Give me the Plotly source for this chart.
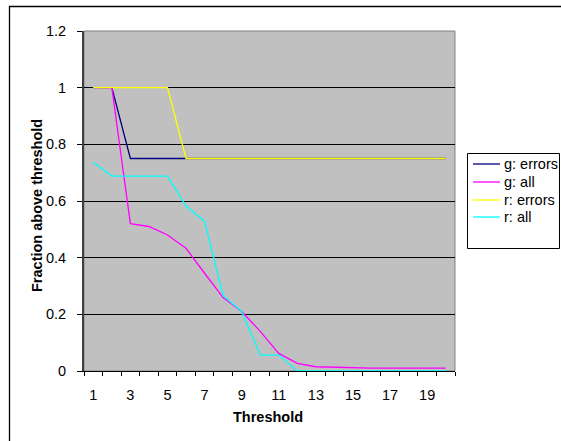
import plotly.graph_objects as go

thresholds = list(range(1, 21))
g_errors = [1, 1] + [0.75] * 18
g_all = [1, 1, 0.52, 0.51, 0.48, 0.433, 0.345, 0.259, 0.21, 0.14, 0.062, 0.027, 0.015, 0.013,
         0.01, 0.01, 0.01, 0.01, 0.01, 0.01]
r_errors = [1, 1, 1, 1, 1] + [0.75] * 15
r_all = [0.737, 0.688, 0.688, 0.688, 0.688, 0.582, 0.529, 0.266, 0.21, 0.056, 0.056,
         0, 0, 0, 0, 0, 0, 0, 0, 0]
x_tick_labels = [str(v) for v in range(1, 20, 2)]

series_names = ["g: errors", "g: all", "r: errors", "r: all"]
series_values = [g_errors, g_all, r_errors, r_all]
series_colors = ["#000080", "#FF00FF", "#FFFF00", "#00FFFF"]

FONT = "Liberation Sans, Arial, sans-serif"
FS = 14.5
W, H = 561, 441
L, R, T, B = 84, 455, 31, 371  # plot area pixels

fig = go.Figure()
for name, vals, col in zip(series_names, series_values, series_colors):
    fig.add_trace(go.Scatter(x=thresholds, y=vals, name=name, mode="lines",
                             line=dict(color=col, width=1.3), showlegend=False))

def px(p):
    return (p - L) / (R - L)

def py(p):
    return (B - p) / (B - T)

shapes = [
    dict(type="rect", xref="paper", yref="paper", x0=0, x1=1, y0=0, y1=1,
         line=dict(color="#808080", width=1), layer="below"),
    dict(type="rect", xref="paper", yref="paper",
         x0=px(9.5), x1=px(620), y0=py(500), y1=py(6.5),
         line=dict(color="black", width=1.3), fillcolor="rgba(0,0,0,0)"),
    # legend box
    dict(type="rect", xref="paper", yref="paper",
         x0=px(467.5), x1=px(559.5), y0=py(248.5), y1=py(153.5),
         line=dict(color="black", width=1), fillcolor="white"),
]
annotations = [
    dict(text="<b>Threshold</b>", xref="paper", yref="paper",
         x=px(268), y=py(417), showarrow=False, font=dict(size=FS),
         xanchor="center", yanchor="middle"),
    dict(text="<b>Fraction above threshold</b>", xref="paper", yref="paper",
         x=px(37), y=py(206), showarrow=False, font=dict(size=FS),
         textangle=-90, xanchor="center", yanchor="middle"),
]
legend_y = [164, 182, 200, 217]
for name, col, ly in zip(series_names, series_colors, legend_y):
    shapes.append(dict(type="line", xref="paper", yref="paper",
                       x0=px(473), x1=px(500), y0=py(ly), y1=py(ly),
                       line=dict(color=col, width=1.3)))
    annotations.append(dict(text=name, xref="paper", yref="paper",
                            x=px(502), y=py(ly), showarrow=False,
                            font=dict(size=FS), xanchor="left", yanchor="middle"))

fig.update_layout(
    width=W, height=H,
    margin=dict(l=L, r=W - R, t=T, b=H - B, pad=0, autoexpand=False),
    paper_bgcolor="white",
    plot_bgcolor="#C0C0C0",
    font=dict(family=FONT, size=FS, color="black"),
    showlegend=False,
    xaxis=dict(range=[0.5, 20.5], tickmode="array",
               tickvals=list(range(1, 20, 2)), ticktext=x_tick_labels,
               ticks="outside", ticklen=0, tickcolor="rgba(0,0,0,0)",
               ticklabelstandoff=11,
               minor=dict(tickmode="array", tickvals=[v + 0.5 for v in range(0, 21)],
                          ticks="outside", ticklen=4, tickcolor="black", showgrid=False),
               showgrid=False, zeroline=False,
               showline=True, linecolor="black", linewidth=1,
               tickfont=dict(size=FS)),
    yaxis=dict(range=[0, 1.2], dtick=0.2, tick0=0,
               ticks="outside", ticklen=5, tickcolor="black",
               ticklabelstandoff=8,
               showgrid=True, gridcolor="black", gridwidth=1,
               zeroline=False, showline=True, linecolor="#404040", linewidth=2,
               tickfont=dict(size=FS)),
    shapes=shapes,
    annotations=annotations,
)

fig.write_html("out.html")
